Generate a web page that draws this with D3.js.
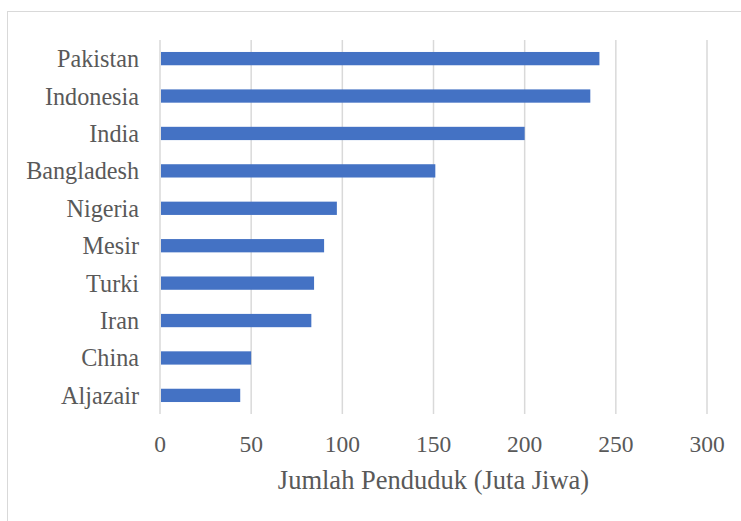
<!DOCTYPE html>
<html><head><meta charset="utf-8">
<script src="https://cdn.jsdelivr.net/npm/d3@7"></script>
<style>body{margin:0;background:#fff}svg{display:block}</style>
</head><body>
<svg id="c" width="741" height="521"></svg>
<script>
const categories = ["Pakistan","Indonesia","India","Bangladesh","Nigeria","Mesir","Turki","Iran","China","Aljazair"];
const values = [241, 236, 200, 151, 97, 90, 84.5, 83, 50, 44];
const xTicks = [0, 50, 100, 150, 200, 250, 300];
const xTitle = "Jumlah Penduduk (Juta Jiwa)";

const svg = d3.select("#c");
const font = "'Liberation Serif','Times New Roman',serif";
const txt = "#595959";
const m = {left:160, right:34, top:40, bottom:107};
const W = 741, H = 521;

svg.append("rect").attr("x",7.5).attr("y",11.5).attr("width",800).attr("height",600)
  .attr("fill","#fff").attr("stroke","#d9d9d9").attr("stroke-width",1);

const x = d3.scaleLinear().domain([0,300]).range([m.left, W-m.right]);
const y = d3.scaleBand().domain(categories).range([m.top, H-m.bottom]).paddingInner(0.645).paddingOuter(0.32);

svg.append("g").selectAll("line").data(xTicks).join("line")
  .attr("x1",d=>x(d)).attr("x2",d=>x(d)).attr("y1",m.top).attr("y2",H-m.bottom)
  .attr("stroke","#d9d9d9").attr("stroke-width",1.5);

svg.append("g").selectAll("rect").data(categories).join("rect")
  .attr("x",x(0)+1).attr("y",d=>y(d))
  .attr("width",(d,i)=>x(values[i])-x(0)-1).attr("height",y.bandwidth())
  .attr("fill","#4472c4");

svg.append("g").selectAll("text").data(categories).join("text")
  .attr("x",139).attr("y",d=>y(d)+y.bandwidth()/2).attr("dy","0.35em")
  .attr("text-anchor","end").attr("font-family",font).attr("font-size",24.2).attr("fill",txt)
  .text(d=>d);

svg.append("g").selectAll("text").data(xTicks).join("text")
  .attr("x",d=>x(d)).attr("y",452).attr("text-anchor","middle")
  .attr("font-family",font).attr("font-size",23.5).attr("fill",txt).text(d=>d);

svg.append("text").attr("x",(x(0)+x(300))/2).attr("y",489).attr("text-anchor","middle")
  .attr("font-family",font).attr("font-size",26.5).attr("fill",txt).text(xTitle);
</script>
</body></html>
